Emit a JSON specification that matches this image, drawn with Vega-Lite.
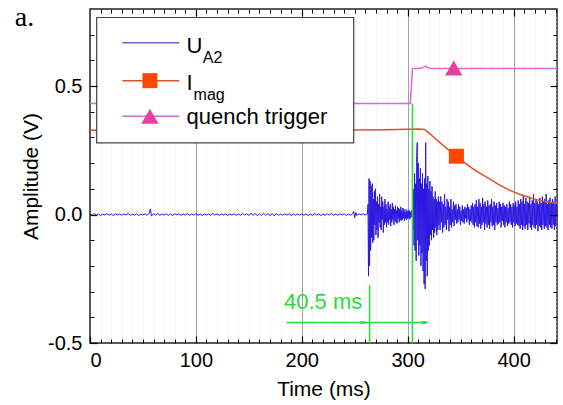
{
"$schema": "https://vega.github.io/schema/vega-lite/v6.json",
"width": 467, "height": 334,
"autosize": {"type": "none"},
"padding": {"left": 90, "top": 9, "right": 6, "bottom": 62},
"background": "white",
"config": {
  "view": {"stroke": "#222", "strokeWidth": 1.5},
  "axis": {"domain": false, "labelFont": "Liberation Sans", "labelFontSize": 20, "labelColor": "#000", "tickColor": "#000", "titleFont": "Liberation Sans", "titleFontSize": 21, "titleFontWeight": "normal", "titleColor": "#000"},
  "text": {"font": "Liberation Sans"}
},
"datasets": {
  "sig": [
{"t":0,"u":0.002},{"t":2,"u":-0.003},{"t":4,"u":0.004},{"t":6,"u":-0.002},{"t":8,"u":0.003},{"t":10,"u":-0.004},{"t":12,"u":0.001},{"t":14,"u":-0.002},{"t":16,"u":0.004},{"t":18,"u":-0.003},{"t":20,"u":0.002},{"t":22,"u":-0.004},{"t":24,"u":0.003},{"t":26,"u":-0.001},{"t":28,"u":0.002},{"t":30,"u":-0.003},{"t":32,"u":0.003},{"t":34,"u":-0.002},{"t":36,"u":0.004},{"t":38,"u":-0.003},{"t":40,"u":0.001},{"t":42,"u":-0.002},{"t":44,"u":0.003},{"t":46,"u":-0.004},{"t":48,"u":0.002},{"t":50,"u":-0.002},{"t":52,"u":0.003},{"t":54,"u":-0.003},{"t":56,"u":0.006},{"t":57,"u":0.022},{"t":58,"u":-0.006},{"t":60,"u":0.003},{"t":62,"u":-0.002},{"t":64,"u":0.004},{"t":66,"u":-0.003},{"t":68,"u":0.002},{"t":70,"u":-0.002},{"t":72,"u":0.003},{"t":74,"u":-0.003},{"t":76,"u":0.002},{"t":78,"u":-0.004},{"t":80,"u":0.003},{"t":82,"u":-0.001},{"t":84,"u":0.003},{"t":86,"u":-0.003},{"t":88,"u":0.002},{"t":90,"u":-0.002},{"t":92,"u":0.004},{"t":94,"u":-0.003},{"t":96,"u":0.002},{"t":98,"u":-0.002},{"t":100,"u":0.003},{"t":102,"u":-0.003},{"t":104,"u":0.002},{"t":106,"u":-0.004},{"t":108,"u":0.003},{"t":110,"u":-0.002},{"t":112,"u":0.002},{"t":114,"u":-0.003},{"t":116,"u":0.004},{"t":118,"u":-0.002},{"t":120,"u":0.003},{"t":122,"u":-0.003},{"t":124,"u":0.002},{"t":126,"u":-0.002},{"t":128,"u":0.003},{"t":130,"u":-0.004},{"t":132,"u":0.002},{"t":134,"u":-0.002},{"t":136,"u":0.003},{"t":138,"u":-0.003},{"t":140,"u":0.002},{"t":142,"u":-0.003},{"t":144,"u":0.004},{"t":146,"u":-0.002},{"t":148,"u":0.003},{"t":150,"u":-0.004},{"t":152,"u":0.005},{"t":154,"u":-0.003},{"t":156,"u":0.004},{"t":158,"u":-0.005},{"t":160,"u":0.003},{"t":162,"u":-0.004},{"t":164,"u":0.005},{"t":166,"u":-0.003},{"t":168,"u":0.004},{"t":170,"u":-0.004},{"t":172,"u":0.003},{"t":174,"u":-0.005},{"t":176,"u":0.004},{"t":178,"u":-0.003},{"t":180,"u":0.002},{"t":182,"u":-0.003},{"t":184,"u":0.003},{"t":186,"u":-0.002},{"t":188,"u":0.003},{"t":190,"u":-0.004},{"t":192,"u":0.002},{"t":194,"u":-0.003},{"t":196,"u":0.003},{"t":198,"u":-0.002},{"t":200,"u":0.002},{"t":202,"u":-0.003},{"t":204,"u":0.003},{"t":206,"u":-0.004},{"t":208,"u":0.002},{"t":210,"u":-0.003},{"t":212,"u":0.004},{"t":214,"u":-0.002},{"t":216,"u":0.003},{"t":218,"u":-0.004},{"t":220,"u":0.002},{"t":222,"u":-0.003},{"t":224,"u":0.003},{"t":226,"u":-0.002},{"t":228,"u":0.004},{"t":230,"u":-0.003},{"t":232,"u":0.002},{"t":234,"u":-0.003},{"t":236,"u":0.003},{"t":238,"u":-0.002},{"t":240,"u":0.003},{"t":242,"u":-0.004},{"t":244,"u":0.002},{"t":246,"u":-0.003},{"t":248,"u":0.004},{"t":249,"u":0.012},{"t":250,"u":-0.012},{"t":251,"u":0.008},{"t":252,"u":-0.004},{"t":254,"u":0.003},{"t":256,"u":-0.002},{"t":258,"u":0.003},{"t":260,"u":-0.003},{"t":261,"u":0.002},
{"t":262,"u":0.002},{"t":262.5,"u":0.04},{"t":263,"u":-0.24},{"t":263.5,"u":0.14},{"t":264,"u":-0.2},{"t":264.5,"u":0.13},{"t":265,"u":-0.14},{"t":265.5,"u":0.11},{"t":266,"u":-0.09},{"t":266.5,"u":0.12},{"t":267,"u":-0.11},{"t":267.5,"u":0.06},{"t":268,"u":-0.1},{"t":268.5,"u":0.09},{"t":269,"u":-0.04},{"t":269.5,"u":0.1},{"t":270,"u":-0.08},{"t":270.5,"u":0.05},{"t":271,"u":-0.06},{"t":271.5,"u":0.07},{"t":272,"u":-0.09},{"t":272.5,"u":0.04},{"t":273,"u":-0.03},{"t":273.5,"u":0.08},{"t":274,"u":-0.05},{"t":274.5,"u":0.03},{"t":275,"u":-0.06},{"t":275.5,"u":0.07},{"t":276,"u":-0.02},{"t":276.5,"u":0.05},{"t":277,"u":-0.07},{"t":277.5,"u":0.03},{"t":278,"u":-0.04},{"t":278.5,"u":0.06},{"t":279,"u":-0.03},{"t":279.5,"u":0.04},{"t":280,"u":-0.05},{"t":280.5,"u":0.02},{"t":281,"u":-0.03},{"t":281.5,"u":0.05},{"t":282,"u":-0.04},{"t":282.5,"u":0.03},{"t":283,"u":-0.02},{"t":283.5,"u":0.04},{"t":284,"u":-0.045},{"t":284.5,"u":0.02},{"t":285,"u":-0.03},{"t":285.5,"u":0.045},{"t":286,"u":-0.02},{"t":286.5,"u":0.03},{"t":287,"u":-0.04},{"t":287.5,"u":0.02},{"t":288,"u":-0.025},{"t":288.5,"u":0.035},{"t":289,"u":-0.03},{"t":289.5,"u":0.015},{"t":290,"u":-0.035},{"t":290.5,"u":0.03},{"t":291,"u":-0.015},{"t":291.5,"u":0.025},{"t":292,"u":-0.03},{"t":292.5,"u":0.02},{"t":293,"u":-0.02},{"t":293.5,"u":0.03},{"t":294,"u":-0.025},{"t":294.5,"u":0.015},{"t":295,"u":-0.02},{"t":295.5,"u":0.025},{"t":296,"u":-0.015},{"t":296.5,"u":0.02},{"t":297,"u":-0.025},{"t":297.5,"u":0.01},{"t":298,"u":-0.015},{"t":298.5,"u":0.02},{"t":299,"u":-0.02},{"t":299.5,"u":0.012},{"t":300,"u":-0.015},{"t":300.5,"u":0.018},{"t":301,"u":-0.012},{"t":301.5,"u":0.015},{"t":302,"u":-0.018},{"t":302.5,"u":0.01},{"t":303,"u":-0.012},{"t":303.5,"u":0.015},{"t":304,"u":-0.01},{"t":304.5,"u":0.02},{"t":305,"u":-0.06},{"t":305.5,"u":0.1},{"t":306,"u":-0.12},{"t":306.5,"u":0.16},{"t":307,"u":-0.14},{"t":307.5,"u":0.12},{"t":308,"u":-0.18},{"t":308.5,"u":0.22},{"t":309,"u":0.28},{"t":309.5,"u":-0.1},{"t":310,"u":0.2},{"t":310.5,"u":-0.16},{"t":311,"u":0.14},{"t":311.5,"u":-0.12},{"t":312,"u":0.18},{"t":312.5,"u":-0.2},{"t":313,"u":0.12},{"t":313.5,"u":-0.15},{"t":314,"u":0.16},{"t":314.5,"u":-0.22},{"t":315,"u":0.1},{"t":315.5,"u":-0.27},{"t":316,"u":0.14},{"t":316.5,"u":-0.29},{"t":317,"u":0.28},{"t":317.5,"u":-0.18},{"t":318,"u":0.12},{"t":318.5,"u":-0.24},{"t":319,"u":0.15},{"t":319.5,"u":-0.14},{"t":320,"u":0.1},{"t":320.5,"u":-0.12},{"t":321,"u":0.13},{"t":321.5,"u":-0.08},{"t":322,"u":0.09},{"t":322.5,"u":-0.1},{"t":323,"u":0.11},{"t":323.5,"u":-0.06},{"t":324,"u":0.07},{"t":324.5,"u":-0.09},{"t":325,"u":0.06},{"t":325.5,"u":-0.07},{"t":326,"u":0.09},{"t":326.5,"u":-0.05},{"t":327,"u":0.06},{"t":327.5,"u":-0.08},{"t":328,"u":0.05},{"t":328.5,"u":-0.06},{"t":329,"u":0.07},{"t":329.5,"u":-0.04},{"t":330,"u":0.05},
{"t":330.6,"u":-0.06},{"t":331.2,"u":0.07},{"t":331.8,"u":-0.03},{"t":332.4,"u":0.05},{"t":333,"u":-0.07},{"t":333.6,"u":0.04},{"t":334.2,"u":-0.05},{"t":334.8,"u":0.08},{"t":335.4,"u":-0.04},{"t":336,"u":0.03},{"t":336.6,"u":-0.06},{"t":337.2,"u":0.06},{"t":337.8,"u":-0.02},{"t":338.4,"u":0.05},{"t":339,"u":-0.065},{"t":339.6,"u":0.03},{"t":340.2,"u":-0.04},{"t":340.8,"u":0.06},{"t":341.4,"u":-0.05},{"t":342,"u":0.02},{"t":342.6,"u":-0.03},{"t":343.2,"u":0.05},{"t":343.8,"u":-0.045},{"t":344.4,"u":0.035},{"t":345,"u":-0.02},{"t":345.6,"u":0.04},{"t":346.2,"u":-0.035},{"t":346.8,"u":0.02},{"t":347.4,"u":-0.03},{"t":348,"u":0.04},{"t":348.6,"u":-0.02},{"t":349.2,"u":0.03},{"t":349.8,"u":-0.04},{"t":350.4,"u":0.015},{"t":351,"u":-0.025},{"t":351.6,"u":0.035},{"t":352.2,"u":-0.03},{"t":352.8,"u":0.02},{"t":353.4,"u":-0.035},{"t":354,"u":0.03},{"t":354.6,"u":-0.015},{"t":355.2,"u":0.025},{"t":355.8,"u":-0.03},{"t":356.4,"u":0.04},{"t":357,"u":-0.02},{"t":357.6,"u":0.03},{"t":358.2,"u":-0.04},{"t":358.8,"u":0.02},{"t":359.4,"u":-0.025},{"t":360,"u":0.035},{"t":360.6,"u":-0.03},{"t":361.2,"u":0.045},{"t":361.8,"u":-0.04},{"t":362.4,"u":0.03},{"t":363,"u":-0.05},{"t":363.6,"u":0.04},{"t":364.2,"u":-0.03},{"t":364.8,"u":0.055},{"t":365.4,"u":-0.045},{"t":366,"u":0.03},{"t":366.6,"u":-0.05},{"t":367.2,"u":0.06},{"t":367.8,"u":-0.035},{"t":368.4,"u":0.045},{"t":369,"u":-0.055},{"t":369.6,"u":0.03},{"t":370.2,"u":-0.04},{"t":370.8,"u":0.065},{"t":371.4,"u":-0.03},{"t":372,"u":0.04},{"t":372.6,"u":-0.06},{"t":373.2,"u":0.05},{"t":373.8,"u":-0.035},{"t":374.4,"u":0.03},{"t":375,"u":-0.05},{"t":375.6,"u":0.055},{"t":376.2,"u":-0.04},{"t":376.8,"u":0.035},{"t":377.4,"u":-0.055},{"t":378,"u":0.04},{"t":378.6,"u":-0.03},{"t":379.2,"u":0.06},{"t":379.8,"u":-0.045},{"t":380.4,"u":0.03},{"t":381,"u":-0.04},{"t":381.6,"u":0.05},{"t":382.2,"u":-0.06},{"t":382.8,"u":0.035},{"t":383.4,"u":-0.03},{"t":384,"u":0.045},{"t":384.6,"u":-0.04},{"t":385.2,"u":0.025},{"t":385.8,"u":-0.035},{"t":386.4,"u":0.05},{"t":387,"u":-0.03},{"t":387.6,"u":0.04},{"t":388.2,"u":-0.05},{"t":388.8,"u":0.03},{"t":389.4,"u":-0.025},{"t":390,"u":0.045},{"t":390.6,"u":-0.04},{"t":391.2,"u":0.035},{"t":391.8,"u":-0.05},{"t":392.4,"u":0.03},{"t":393,"u":-0.03},{"t":393.6,"u":0.04},{"t":394.2,"u":-0.045},{"t":394.8,"u":0.025},{"t":395.4,"u":-0.035},{"t":396,"u":0.05},{"t":396.6,"u":-0.03},{"t":397.2,"u":0.04},{"t":397.8,"u":-0.04},{"t":398.4,"u":0.03},{"t":399,"u":-0.05},{"t":399.6,"u":0.045},{"t":400.2,"u":-0.03},{"t":400.8,"u":0.035},{"t":401.4,"u":-0.045},{"t":402,"u":0.05},{"t":402.6,"u":-0.035},{"t":403.2,"u":0.03},{"t":403.8,"u":-0.04},{"t":404.4,"u":0.055},{"t":405,"u":-0.045},{"t":405.6,"u":0.04},{"t":406.2,"u":-0.055},{"t":406.8,"u":0.06},{"t":407.4,"u":-0.04},{"t":408,"u":0.05},{"t":408.6,"u":-0.06},{"t":409.2,"u":0.075},{"t":409.8,"u":-0.045},{"t":410.4,"u":0.04},{"t":411,"u":-0.055},{"t":411.6,"u":0.065},{"t":412.2,"u":-0.04},{"t":412.8,"u":0.05},{"t":413.4,"u":-0.06},{"t":414,"u":0.045},{"t":414.6,"u":-0.035},{"t":415.2,"u":0.07},{"t":415.8,"u":-0.05},{"t":416.4,"u":0.04},{"t":417,"u":-0.06},{"t":417.6,"u":0.055},{"t":418.2,"u":-0.04},{"t":418.8,"u":0.08},{"t":419.4,"u":-0.05},{"t":420,"u":0.045},{"t":420.6,"u":-0.055},{"t":421.2,"u":0.06},{"t":421.8,"u":-0.04},{"t":422.4,"u":0.05},{"t":423,"u":-0.065},{"t":423.6,"u":0.04},{"t":424.2,"u":-0.045},{"t":424.8,"u":0.065},{"t":425.4,"u":-0.05},{"t":426,"u":0.045},{"t":426.6,"u":-0.06},{"t":427.2,"u":0.07},{"t":427.8,"u":-0.04},{"t":428.4,"u":0.05},{"t":429,"u":-0.055},{"t":429.6,"u":0.06},{"t":430.2,"u":-0.045},{"t":430.8,"u":0.08},{"t":431.4,"u":-0.05},{"t":432,"u":0.04},{"t":432.6,"u":-0.06},{"t":433.2,"u":0.055},{"t":433.8,"u":-0.04},{"t":434.4,"u":0.065},{"t":435,"u":-0.05},{"t":435.6,"u":0.045},{"t":436.2,"u":-0.055},{"t":436.8,"u":0.06},{"t":437.4,"u":-0.04},{"t":438,"u":0.05},{"t":438.6,"u":-0.06},{"t":439.2,"u":0.07},{"t":439.8,"u":-0.045},{"t":440.4,"u":0.04},{"t":441,"u":-0.01}
  ],
  "imag": [
{"t":0,"u":0.328},{"t":50,"u":0.329},{"t":100,"u":0.328},{"t":150,"u":0.329},{"t":200,"u":0.328},{"t":250,"u":0.329},{"t":280,"u":0.33},{"t":300,"u":0.332},{"t":310,"u":0.333},{"t":316,"u":0.331},{"t":320,"u":0.318},{"t":325,"u":0.3},{"t":330,"u":0.282},{"t":335,"u":0.264},{"t":340,"u":0.246},{"t":346,"u":0.227},{"t":350,"u":0.214},{"t":355,"u":0.198},{"t":360,"u":0.183},{"t":365,"u":0.169},{"t":370,"u":0.156},{"t":377,"u":0.14},{"t":385,"u":0.119},{"t":390,"u":0.108},{"t":395,"u":0.097},{"t":400,"u":0.088},{"t":405,"u":0.08},{"t":410,"u":0.073},{"t":418,"u":0.062},{"t":425,"u":0.055},{"t":432,"u":0.049},{"t":441,"u":0.043}
  ],
  "quench": [
{"t":0,"u":0.432},{"t":302.5,"u":0.432},{"t":304.5,"u":0.568},{"t":313,"u":0.569},{"t":315,"u":0.574},{"t":317,"u":0.578},{"t":319,"u":0.572},{"t":322,"u":0.568},{"t":441,"u":0.568}
  ],
  "sq": [{"t":346,"u":0.227}],
  "tri": [{"t":343.5,"u":0.57}],
  "green": [{"t":264,"lo":-0.5,"hi":-0.275},{"t":304.5,"lo":-0.5,"hi":0.432}],
  "arrow": [{"a":185.5,"b":319.2,"v":-0.42}],
  "heads": [{"t":259.8,"v":-0.42,"dir":"r"},{"t":312.8,"v":-0.42,"dir":"l"}],
  "note": [{"t":183.2,"u":-0.368,"label":"40.5 ms"}],
  "panel": [{"t":-71,"u":0.733,"label":"a."}],
  "legLines": [{"k":"U","u":0.669},{"k":"I","u":0.521},{"k":"Q","u":0.383}],
  "legSq": [{"t":56.6,"u":0.521}],
  "legTri": [{"t":56.6,"u":0.383}],
  "legMain": [{"t":91.2,"u":0.627,"label":"U"},{"t":91.2,"u":0.484,"label":"I"},{"t":91.2,"u":0.352,"label":"quench trigger"}],
  "legSub": [{"t":106.5,"u":0.588,"label":"A2"},{"t":97.8,"u":0.4455,"label":"mag"}]
},
"layer": [
  {"data": {"name": "sig"}, "mark": {"type": "line", "color": "#2a18e0", "strokeWidth": 1},
   "encoding": {
     "x": {"field": "t", "type": "quantitative", "scale": {"domain": [0, 441], "nice": false, "zero": false},
       "axis": {"orient": "bottom", "grid": true, "values": [10,20,30,40,50,60,70,80,90,110,120,130,140,150,160,170,180,190,210,220,230,240,250,260,270,280,290,310,320,330,340,350,360,370,380,390,410,420,430,440], "gridDash": [1, 3], "gridColor": "#d6d6d6", "gridWidth": 1, "ticks": false, "labels": false, "title": null, "zindex": 0}},
     "y": {"field": "u", "type": "quantitative", "scale": {"domain": [-0.5, 0.8], "nice": false, "zero": false}, "axis": null}}},
  {"data": {"name": "imag"}, "mark": {"type": "line", "color": "#d9532a", "strokeWidth": 1.5},
   "encoding": {
     "x": {"field": "t", "type": "quantitative", "scale": {"domain": [0, 441], "nice": false, "zero": false},
       "axis": {"orient": "bottom", "grid": true, "values": [100, 200, 300, 400], "gridColor": "#a0a0a0", "gridWidth": 1, "ticks": false, "labels": false, "title": null, "zindex": 0}},
     "y": {"field": "u", "type": "quantitative", "scale": {"domain": [-0.5, 0.8], "nice": false, "zero": false}, "axis": null}}},
  {"data": {"name": "quench"}, "mark": {"type": "line", "color": "#e066d0", "strokeWidth": 1.5},
   "encoding": {
     "x": {"field": "t", "type": "quantitative", "scale": {"domain": [0, 441], "nice": false, "zero": false},
       "axis": {"orient": "bottom", "grid": false, "values": [0, 100, 200, 300, 400], "tickSize": -7, "tickWidth": 1.2, "labelPadding": 14, "title": "Time (ms)", "titlePadding": 8, "zindex": 1}},
     "y": {"field": "u", "type": "quantitative", "scale": {"domain": [-0.5, 0.8], "nice": false, "zero": false},
       "axis": {"orient": "left", "grid": false, "values": [-0.5, 0, 0.5], "tickSize": -7, "tickWidth": 1.2, "labelPadding": 15, "labelExpr": "datum.value < 0 ? '-' + format(-datum.value, '.1f') : format(datum.value, '.1f')", "title": "Amplitude (V)", "titlePadding": 6, "zindex": 1}}}},
  {"data": {"name": "sq"}, "mark": {"type": "point", "shape": "square", "filled": true, "size": 225, "color": "#ff4500", "opacity": 1},
   "encoding": {
     "x": {"field": "t", "type": "quantitative", "scale": {"domain": [0, 441], "nice": false, "zero": false},
       "axis": {"orient": "bottom", "grid": false, "values": [10,20,30,40,50,60,70,80,90,110,120,130,140,150,160,170,180,190,210,220,230,240,250,260,270,280,290,310,320,330,340,350,360,370,380,390,410,420,430,440], "tickSize": -4, "tickWidth": 1, "labels": false, "title": null, "zindex": 1}},
     "y": {"field": "u", "type": "quantitative", "scale": {"domain": [-0.5, 0.8], "nice": false, "zero": false},
       "axis": {"orient": "left", "grid": false, "values": [-0.4, -0.3, -0.2, -0.1, 0.1, 0.2, 0.3, 0.4, 0.6, 0.7], "tickSize": -4, "tickWidth": 1, "labels": false, "title": null, "zindex": 1}}}},
  {"data": {"name": "tri"}, "mark": {"type": "point", "shape": "triangle-up", "filled": true, "size": 300, "color": "#e8409f", "opacity": 1},
   "encoding": {
     "x": {"field": "t", "type": "quantitative", "scale": {"domain": [0, 441], "nice": false, "zero": false},
       "axis": {"orient": "top", "grid": false, "values": [100, 200, 300, 400], "tickSize": -7, "tickWidth": 1.2, "labels": false, "title": null, "zindex": 1}},
     "y": {"field": "u", "type": "quantitative", "scale": {"domain": [-0.5, 0.8], "nice": false, "zero": false},
       "axis": {"orient": "right", "grid": false, "values": [-0.5, 0, 0.5], "tickSize": -7, "tickWidth": 1.2, "labels": false, "title": null, "zindex": 1}}}},
  {"data": {"name": "green"}, "mark": {"type": "rule", "color": "#2edb3c", "strokeWidth": 1.6},
   "encoding": {
     "x": {"field": "t", "type": "quantitative", "scale": {"domain": [0, 441], "nice": false, "zero": false},
       "axis": {"orient": "top", "grid": false, "values": [10,20,30,40,50,60,70,80,90,110,120,130,140,150,160,170,180,190,210,220,230,240,250,260,270,280,290,310,320,330,340,350,360,370,380,390,410,420,430,440], "tickSize": -4, "tickWidth": 1, "labels": false, "title": null, "zindex": 1}},
     "y": {"field": "lo", "type": "quantitative", "scale": {"domain": [-0.5, 0.8], "nice": false, "zero": false},
       "axis": {"orient": "right", "grid": false, "values": [-0.4, -0.3, -0.2, -0.1, 0.1, 0.2, 0.3, 0.4, 0.6, 0.7], "tickSize": -4, "tickWidth": 1, "labels": false, "title": null, "zindex": 1}},
     "y2": {"field": "hi"}}},
  {"data": {"name": "arrow"}, "mark": {"type": "rule", "color": "#2edb3c", "strokeWidth": 1.6},
   "encoding": {
     "x": {"field": "a", "type": "quantitative", "scale": {"domain": [0, 441], "nice": false, "zero": false}, "axis": null},
     "x2": {"field": "b"},
     "y": {"field": "v", "type": "quantitative", "scale": {"domain": [-0.5, 0.8], "nice": false, "zero": false}, "axis": null}}},
  {"data": {"name": "heads"}, "mark": {"type": "point", "filled": true, "size": 81, "color": "#2edb3c", "opacity": 1},
   "encoding": {
     "x": {"field": "t", "type": "quantitative", "scale": {"domain": [0, 441], "nice": false, "zero": false}, "axis": null},
     "y": {"field": "v", "type": "quantitative", "scale": {"domain": [-0.5, 0.8], "nice": false, "zero": false}, "axis": null},
     "shape": {"field": "dir", "type": "nominal", "scale": {"domain": ["r", "l"], "range": ["M -1 -0.4 L 1 0 L -1 0.4 Z", "M 1 -0.4 L -1 0 L 1 0.4 Z"]}, "legend": null}}},
  {"data": {"name": "note"}, "mark": {"type": "text", "color": "#2edb3c", "font": "Liberation Sans", "fontSize": 22, "align": "left", "baseline": "alphabetic"},
   "encoding": {
     "x": {"field": "t", "type": "quantitative", "scale": {"domain": [0, 441], "nice": false, "zero": false}, "axis": null},
     "y": {"field": "u", "type": "quantitative", "scale": {"domain": [-0.5, 0.8], "nice": false, "zero": false}, "axis": null},
     "text": {"field": "label"}}},
  {"data": {"name": "panel"}, "mark": {"type": "text", "color": "#000", "font": "Liberation Serif", "fontSize": 28, "align": "left", "baseline": "alphabetic"},
   "encoding": {
     "x": {"field": "t", "type": "quantitative", "scale": {"domain": [0, 441], "nice": false, "zero": false}, "axis": null},
     "y": {"field": "u", "type": "quantitative", "scale": {"domain": [-0.5, 0.8], "nice": false, "zero": false}, "axis": null},
     "text": {"field": "label"}}},
  {"data": {"values": [{}]}, "mark": {"type": "rect", "fill": "white", "stroke": "#444", "strokeWidth": 1.2},
   "encoding": {
     "x": {"datum": 6.3, "type": "quantitative", "scale": {"domain": [0, 441], "nice": false, "zero": false}, "axis": null},
     "x2": {"datum": 249},
     "y": {"datum": 0.767, "type": "quantitative", "scale": {"domain": [-0.5, 0.8], "nice": false, "zero": false}, "axis": null},
     "y2": {"datum": 0.279}}},
  {"data": {"name": "legLines"}, "mark": {"type": "rule", "strokeWidth": 1.5},
   "encoding": {
     "x": {"datum": 30.5, "type": "quantitative", "scale": {"domain": [0, 441], "nice": false, "zero": false}, "axis": null},
     "x2": {"datum": 84.2},
     "y": {"field": "u", "type": "quantitative", "scale": {"domain": [-0.5, 0.8], "nice": false, "zero": false}, "axis": null},
     "color": {"field": "k", "type": "nominal", "scale": {"domain": ["U", "I", "Q"], "range": ["#6d62d6", "#d9532a", "#e066d0"]}, "legend": null}}},
  {"data": {"name": "legSq"}, "mark": {"type": "point", "shape": "square", "filled": true, "size": 225, "color": "#ff4500", "opacity": 1},
   "encoding": {
     "x": {"field": "t", "type": "quantitative", "scale": {"domain": [0, 441], "nice": false, "zero": false}, "axis": null},
     "y": {"field": "u", "type": "quantitative", "scale": {"domain": [-0.5, 0.8], "nice": false, "zero": false}, "axis": null}}},
  {"data": {"name": "legTri"}, "mark": {"type": "point", "shape": "triangle-up", "filled": true, "size": 300, "color": "#e8409f", "opacity": 1},
   "encoding": {
     "x": {"field": "t", "type": "quantitative", "scale": {"domain": [0, 441], "nice": false, "zero": false}, "axis": null},
     "y": {"field": "u", "type": "quantitative", "scale": {"domain": [-0.5, 0.8], "nice": false, "zero": false}, "axis": null}}},
  {"data": {"name": "legMain"}, "mark": {"type": "text", "color": "#000", "font": "Liberation Sans", "fontSize": 22, "align": "left", "baseline": "alphabetic"},
   "encoding": {
     "x": {"field": "t", "type": "quantitative", "scale": {"domain": [0, 441], "nice": false, "zero": false}, "axis": null},
     "y": {"field": "u", "type": "quantitative", "scale": {"domain": [-0.5, 0.8], "nice": false, "zero": false}, "axis": null},
     "text": {"field": "label"}}},
  {"data": {"name": "legSub"}, "mark": {"type": "text", "color": "#000", "font": "Liberation Sans", "fontSize": 16, "align": "left", "baseline": "alphabetic"},
   "encoding": {
     "x": {"field": "t", "type": "quantitative", "scale": {"domain": [0, 441], "nice": false, "zero": false}, "axis": null},
     "y": {"field": "u", "type": "quantitative", "scale": {"domain": [-0.5, 0.8], "nice": false, "zero": false}, "axis": null},
     "text": {"field": "label"}}}
],
"resolve": {"axis": {"x": "independent", "y": "independent"}}
}
